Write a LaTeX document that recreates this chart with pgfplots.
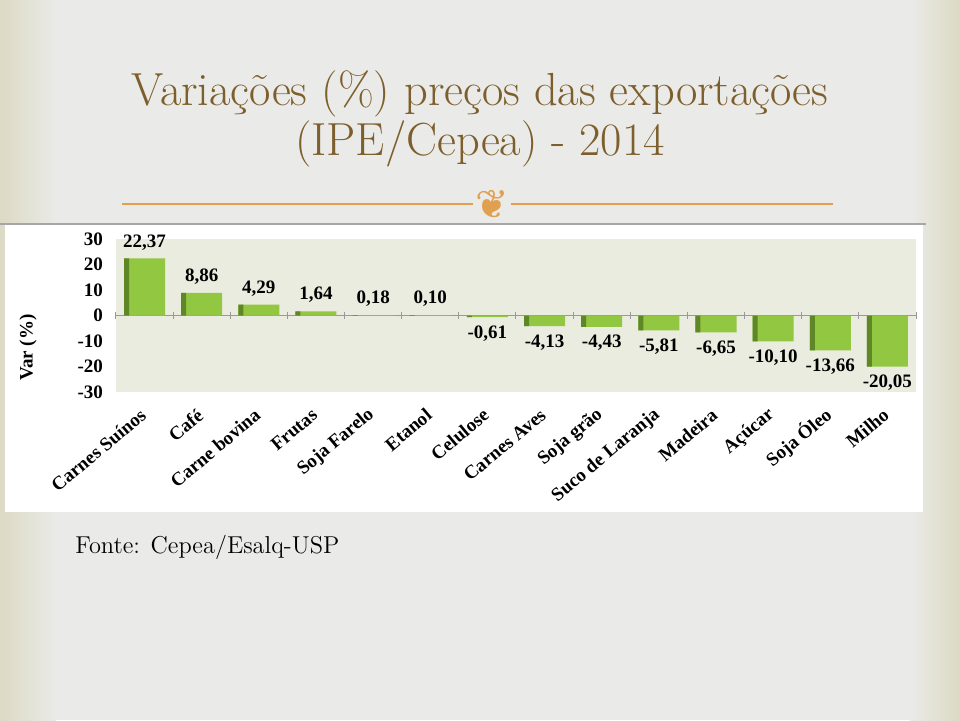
\documentclass[border=0pt]{standalone}
\usepackage{fontspec}
\usepackage{pgfplots}
\pgfplotsset{compat=1.18}
\newfontfamily\chartfont{Liberation Serif}
\newfontfamily\symfont{DejaVu Sans}
\definecolor{slidebg}{RGB}{234,234,232}
\definecolor{edgebeige}{RGB}{220,218,196}
\definecolor{titlecol}{RGB}{125,95,45}
\definecolor{orn}{RGB}{225,160,80}
\definecolor{plotbg}{RGB}{233,236,222}
\definecolor{bardark}{RGB}{95,135,40}
\definecolor{barmain}{RGB}{146,199,66}
\pgfplotstableread{
x y
0 22.37
1 8.86
2 4.29
3 1.64
4 0.18
5 0.10
6 -0.61
7 -4.13
8 -4.43
9 -5.81
10 -6.65
11 -10.10
12 -13.66
13 -20.05
}\datatable
\begin{document}
\begin{tikzpicture}
\fill[slidebg] (0,0) rectangle (480pt,360pt);
\shade[left color=edgebeige, right color=slidebg] (0,0) rectangle (28pt,360pt);
\shade[left color=slidebg, right color=edgebeige] (455pt,0) rectangle (480pt,360pt);
\node[anchor=base, text=titlecol, font=\fontsize{23.2}{26}\selectfont, inner sep=0pt] at (240pt,307.5pt) {Variações (\%) preços das exportações};
\node[anchor=base, text=titlecol, font=\fontsize{23.2}{26}\selectfont, inner sep=0pt] at (240pt,282.5pt) {(IPE/Cepea) - 2014};
\draw[orn, line width=0.7pt] (61pt,258pt) -- (416.5pt,258pt);
\node[fill=slidebg, text=orn, font=\symfont\fontsize{20}{20}\selectfont, inner sep=1pt] at (246pt,258pt) {❦};
\fill[white] (2.5pt,104pt) rectangle (461.5pt,247.5pt);
\draw[black!35, line width=0.8pt] (0pt,248pt) -- (463pt,248pt);
\node[anchor=base west, font=\fontsize{12.2}{14}\selectfont, inner sep=0pt] at (37.5pt,83.5pt) {Fonte: Cepea/Esalq-USP};
\begin{axis}[
  at={(58pt,164pt)}, anchor=south west,
  scale only axis, width=400pt, height=76.5pt,
  xmin=-0.5, xmax=13.5, ymin=-30, ymax=30,
  axis background/.style={fill=plotbg},
  axis line style={draw=none},
  ytick={-30,-20,...,30},
  xtick={0,...,13},
  xticklabels={Carnes Suínos, Café, Carne bovina, Frutas, Soja Farelo, Etanol, Celulose, Carnes Aves, Soja grão, Suco de Laranja, Madeira, Açúcar, Soja  Óleo, Milho},
  tick style={draw=none},
  /pgf/number format/assume math mode=true,
  ticklabel style={font=\chartfont\bfseries\fontsize{9.5}{10}\selectfont},
  yticklabel style={xshift=-3pt},
  xticklabel style={yshift=-8pt, xshift=2pt, rotate=40, anchor=east},
  ylabel={Var (\%)},
  ylabel style={at={(axis description cs:-0.11,0.29)}, anchor=center, font=\chartfont\bfseries\fontsize{9.5}{10}\selectfont},
  clip=false,
]
\draw[black!40, line width=0.8pt] (axis cs:-0.5,0) -- (axis cs:13.5,0);
\pgfplotsinvokeforeach{-0.5,0.5,1.5,2.5,3.5,4.5,5.5,6.5,7.5,8.5,9.5,10.5,11.5,12.5,13.5}{
  \draw[black!40, line width=0.5pt] (axis cs:#1,-1.2) -- (axis cs:#1,1.2);
}
\addplot[ybar, bar width=20.5pt, draw=none, fill=barmain,
  nodes near coords={\pgfmathprintnumber[fixed, fixed zerofill, precision=2, use comma]{\pgfplotspointmeta}},
  nodes near coords align={vertical},
  every node near coord/.append style={font=\chartfont\bfseries\fontsize{9.5}{10}\selectfont, text=black, inner sep=4pt},
] table[x=x, y=y] {\datatable};
\addplot[ybar, bar width=2.5pt, bar shift=-9pt, draw=none, fill=bardark] table[x=x, y=y] {\datatable};
\end{axis}
\pgfresetboundingbox
\useasboundingbox (0,0) rectangle (480pt,360pt);
\end{tikzpicture}
\end{document}
